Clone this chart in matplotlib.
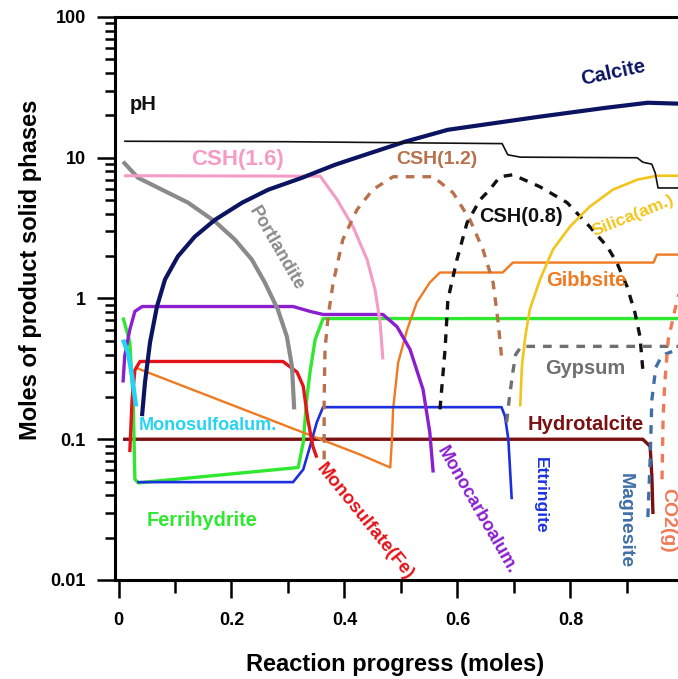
import matplotlib
matplotlib.use("Agg")
import matplotlib.pyplot as plt
from matplotlib.ticker import FixedLocator, NullFormatter, LogLocator

plt.rcParams['font.family'] = ['Liberation Sans', 'DejaVu Sans']
plt.rcParams['font.weight'] = 'bold'

# ---- phase assemblage along the reaction path ----
ph_x = [0.010, 0.30, 0.679, 0.689, 0.711, 0.918, 0.928, 0.944, 0.950, 0.955, 0.995]
ph_y = [13.1, 13.0, 12.6, 10.5, 10.1, 10.0, 9.3, 9.0, 7.8, 6.1, 6.1]

calcite_x = [0.0416, 0.0469, 0.0558, 0.0681, 0.0823, 0.105, 0.135, 0.171, 0.219, 0.265, 0.325,
             0.383, 0.427, 0.507, 0.583, 0.742, 0.861, 0.937, 0.995]
calcite_y = [0.146, 0.254, 0.488, 0.877, 1.365, 1.99, 2.75, 3.63, 4.80, 5.93, 7.21,
             8.91, 10.2, 13.0, 15.8, 19.5, 22.6, 24.6, 24.2]

csh16_x = [0.010, 0.357, 0.387, 0.415, 0.440, 0.454, 0.463, 0.468]
csh16_y = [7.45, 7.40, 5.03, 3.24, 1.89, 1.16, 0.676, 0.369]

portlandite_x = [0.008, 0.0345, 0.077, 0.123, 0.171, 0.206, 0.236, 0.259, 0.282, 0.298, 0.307, 0.311]
portlandite_y = [9.38, 7.21, 5.93, 4.80, 3.52, 2.62, 1.89, 1.30, 0.835, 0.537, 0.33, 0.163]

csh12_x = [0.364, 0.364, 0.3655, 0.371, 0.380, 0.397, 0.422, 0.450, 0.486, 0.557, 0.592,
           0.622, 0.645, 0.663, 0.672, 0.679]
csh12_y = [0.072, 0.192, 0.435, 0.745, 1.30, 2.62, 4.27, 5.93, 7.33, 7.33, 5.65,
           3.63, 2.23, 1.30, 0.676, 0.351]

csh08_x = [0.569, 0.578, 0.583, 0.599, 0.617, 0.640, 0.657, 0.675, 0.698, 0.746, 0.794,
           0.834, 0.865, 0.882, 0.900, 0.914, 0.923, 0.928]
csh08_y = [0.163, 0.435, 0.98, 1.89, 3.46, 5.03, 5.93, 7.33, 7.57, 6.22, 4.80,
           3.24, 2.34, 1.80, 1.22, 0.796, 0.537, 0.313]

silica_x = [0.711, 0.714, 0.720, 0.728, 0.746, 0.769, 0.799, 0.834, 0.875, 0.918, 0.953, 0.995]
silica_y = [0.171, 0.33, 0.537, 0.835, 1.36, 2.23, 3.24, 4.49, 5.93, 6.98, 7.45, 7.45]

gibbsite_x = [0.029, 0.427, 0.481, 0.484, 0.486, 0.495, 0.511, 0.528, 0.551, 0.569, 0.680,
              0.698, 0.947, 0.953, 0.995]
gibbsite_y = [0.324, 0.078, 0.063, 0.10, 0.163, 0.351, 0.603, 0.937, 1.30, 1.53, 1.53,
              1.80, 1.80, 2.05, 2.05]

ferri_x = [0.008, 0.020, 0.026, 0.029, 0.035, 0.318, 0.327, 0.333, 0.339, 0.348, 0.362, 0.995]
ferri_y = [0.733, 0.49, 0.19, 0.052, 0.049, 0.063, 0.095, 0.19, 0.30, 0.51, 0.72, 0.72]

monocarbo_x = [0.008, 0.011, 0.020, 0.029, 0.042, 0.309, 0.339, 0.362, 0.468, 0.493, 0.516,
               0.539, 0.551, 0.557]
monocarbo_y = [0.253, 0.39, 0.60, 0.81, 0.877, 0.877, 0.81, 0.77, 0.77, 0.63, 0.435,
               0.226, 0.112, 0.058]

monosulfate_x = [0.020, 0.024, 0.029, 0.038, 0.291, 0.316, 0.327, 0.335, 0.344, 0.351]
monosulfate_y = [0.081, 0.19, 0.31, 0.357, 0.357, 0.30, 0.238, 0.139, 0.089, 0.074]

monosulfo_x = [0.008, 0.017, 0.024, 0.031]
monosulfo_y = [0.51, 0.41, 0.28, 0.171]

ettringite_x = [0.033, 0.309, 0.327, 0.339, 0.351, 0.362, 0.678, 0.684, 0.690, 0.696]
ettringite_y = [0.0496, 0.0496, 0.061, 0.089, 0.132, 0.169, 0.169, 0.146, 0.10, 0.0375]

hydrotalcite_x = [0.008, 0.928, 0.941, 0.944, 0.946]
hydrotalcite_y = [0.100, 0.100, 0.089, 0.0547, 0.0294]

gypsum_x = [0.687, 0.692, 0.698, 0.703, 0.713, 0.995]
gypsum_y = [0.132, 0.20, 0.30, 0.40, 0.457, 0.457]

magnesite_x = [0.937, 0.941, 0.944, 0.951, 0.962, 0.980]
magnesite_y = [0.028, 0.072, 0.19, 0.324, 0.394, 0.42]

co2_x = [0.962, 0.964, 0.967, 0.973, 0.985, 0.994]
co2_y = [0.052, 0.146, 0.253, 0.51, 0.835, 1.16]

x_ticks = [0, 0.2, 0.4, 0.6, 0.8]
x_ticklabels = ['0', '0.2', '0.4', '0.6', '0.8']
y_ticks = [0.01, 0.1, 1, 10, 100]
y_ticklabels = ['0.01', '0.1', '1', '10', '100']

W, H = 678, 679
fig = plt.figure(figsize=(W / 100, H / 100), dpi=100)
ax = fig.add_axes([115 / W, 1 - 580 / H, (W - 115) / W, (580 - 17) / H])

dash = (0, (2.6, 2.4))
series = [
    (hydrotalcite_x, hydrotalcite_y, '#7a1010', 2.4, '-'),
    (ferri_x, ferri_y, '#2fe82f', 2.4, '-'),
    (gibbsite_x, gibbsite_y, '#ef7a22', 1.7, '-'),
    (ettringite_x, ettringite_y, '#1c30e0', 1.9, '-'),
    (monosulfate_x, monosulfate_y, '#e41419', 2.4, '-'),
    (monocarbo_x, monocarbo_y, '#8b1fcf', 2.4, '-'),
    (portlandite_x, portlandite_y, '#8a8a8a', 3.0, '-'),
    (csh16_x, csh16_y, '#f49bc6', 2.2, '-'),
    (csh12_x, csh12_y, '#b8714c', 2.4, dash),
    (csh08_x, csh08_y, '#111111', 2.4, dash),
    (silica_x, silica_y, '#f3c51a', 1.9, '-'),
    (gypsum_x, gypsum_y, '#6f6f6f', 2.4, dash),
    (magnesite_x, magnesite_y, '#3f6fa6', 2.4, dash),
    (co2_x, co2_y, '#f07a58', 2.4, dash),
    (monosulfo_x, monosulfo_y, '#25d3f2', 3.2, '-'),
    (calcite_x, calcite_y, '#0c1462', 3.0, '-'),
    (ph_x, ph_y, '#111111', 1.2, '-'),
]
for xs, ys, c, lw, ls in series:
    ax.plot(xs, ys, color=c, lw=lw, linestyle=ls, solid_joinstyle='round',
            solid_capstyle='butt', dash_capstyle='butt', clip_on=True)

ax.set_yscale('log')
ax.set_ylim(0.01, 100)
ax.set_xlim(-0.0062, 0.9903)

ax.set_xticks(x_ticks)
ax.set_xticklabels(x_ticklabels)
ax.xaxis.set_minor_locator(FixedLocator([0.1, 0.3, 0.5, 0.7, 0.9]))
ax.set_yticks(y_ticks)
ax.set_yticklabels(y_ticklabels)
ax.yaxis.set_minor_locator(LogLocator(base=10, subs=range(2, 10)))
ax.yaxis.set_minor_formatter(NullFormatter())

ax.tick_params(axis='both', which='major', direction='out', width=1.8, labelsize=13)
ax.tick_params(axis='y', which='major', length=13, pad=8)
ax.tick_params(axis='y', which='minor', direction='out', length=7, width=1.8)
ax.tick_params(axis='x', which='major', length=13, pad=10)
ax.tick_params(axis='x', which='minor', direction='out', length=9, width=1.8)
for lab in ax.get_xticklabels() + ax.get_yticklabels():
    lab.set_fontweight('bold')

ax.spines['right'].set_visible(False)
for s in ('left', 'bottom', 'top'):
    ax.spines[s].set_linewidth(2.2)

# axis titles
fig.text(31 / W, 1 - 270 / H, 'Moles of product solid phases', rotation=90,
         ha='center', va='center', fontsize=17, fontweight='bold')
fig.text(395 / W, 1 - 664 / H, 'Reaction progress (moles)',
         ha='center', va='center', fontsize=17, fontweight='bold')

# phase labels (pixel placement converted to figure fraction)
labels = [
    ('pH', 143, 105, '#111111', 14.5, 0),
    ('Calcite', 613, 73, '#0c1462', 14.5, 12),
    ('CSH(1.6)', 237, 160, '#f49bc6', 16, 0),
    ('Portlandite', 276, 249, '#8a8a8a', 13, -60),
    ('CSH(1.2)', 437, 160, '#b8714c', 14, 0),
    ('CSH(0.8)', 521, 217, '#111111', 14.3, 0),
    ('Silica(am.)', 633, 216, '#f3c51a', 12.5, 22),
    ('Gibbsite', 586, 280, '#ef7a22', 14.5, 0),
    ('Gypsum', 585, 368, '#6f6f6f', 14.4, 0),
    ('Hydrotalcite', 586, 425, '#7a1010', 14.5, 0),
    ('Monosulfoalum.', 208, 425, '#25d3f2', 13, 0),
    ('Ferrihydrite', 202, 520, '#2fe82f', 14.4, 0),
    ('Monosulfate(Fe)', 365, 522, '#e41419', 13.5, -51),
    ('Monocarboalum.', 477, 510, '#8b1fcf', 13, -60),
    ('Ettringite', 540, 495, '#1c30e0', 12.5, -90),
    ('Magnesite', 625, 521, '#3f6fa6', 14, -90),
    ('CO2(g)', 668, 520, '#f07a58', 14, -90),
]
for txt, px, py, c, fs, rot in labels:
    fig.text(px / W, 1 - py / H, txt, color=c, fontsize=fs, fontweight='bold',
             rotation=rot, ha='center', va='center', rotation_mode='anchor')

fig.savefig('out.png', dpi=100)
